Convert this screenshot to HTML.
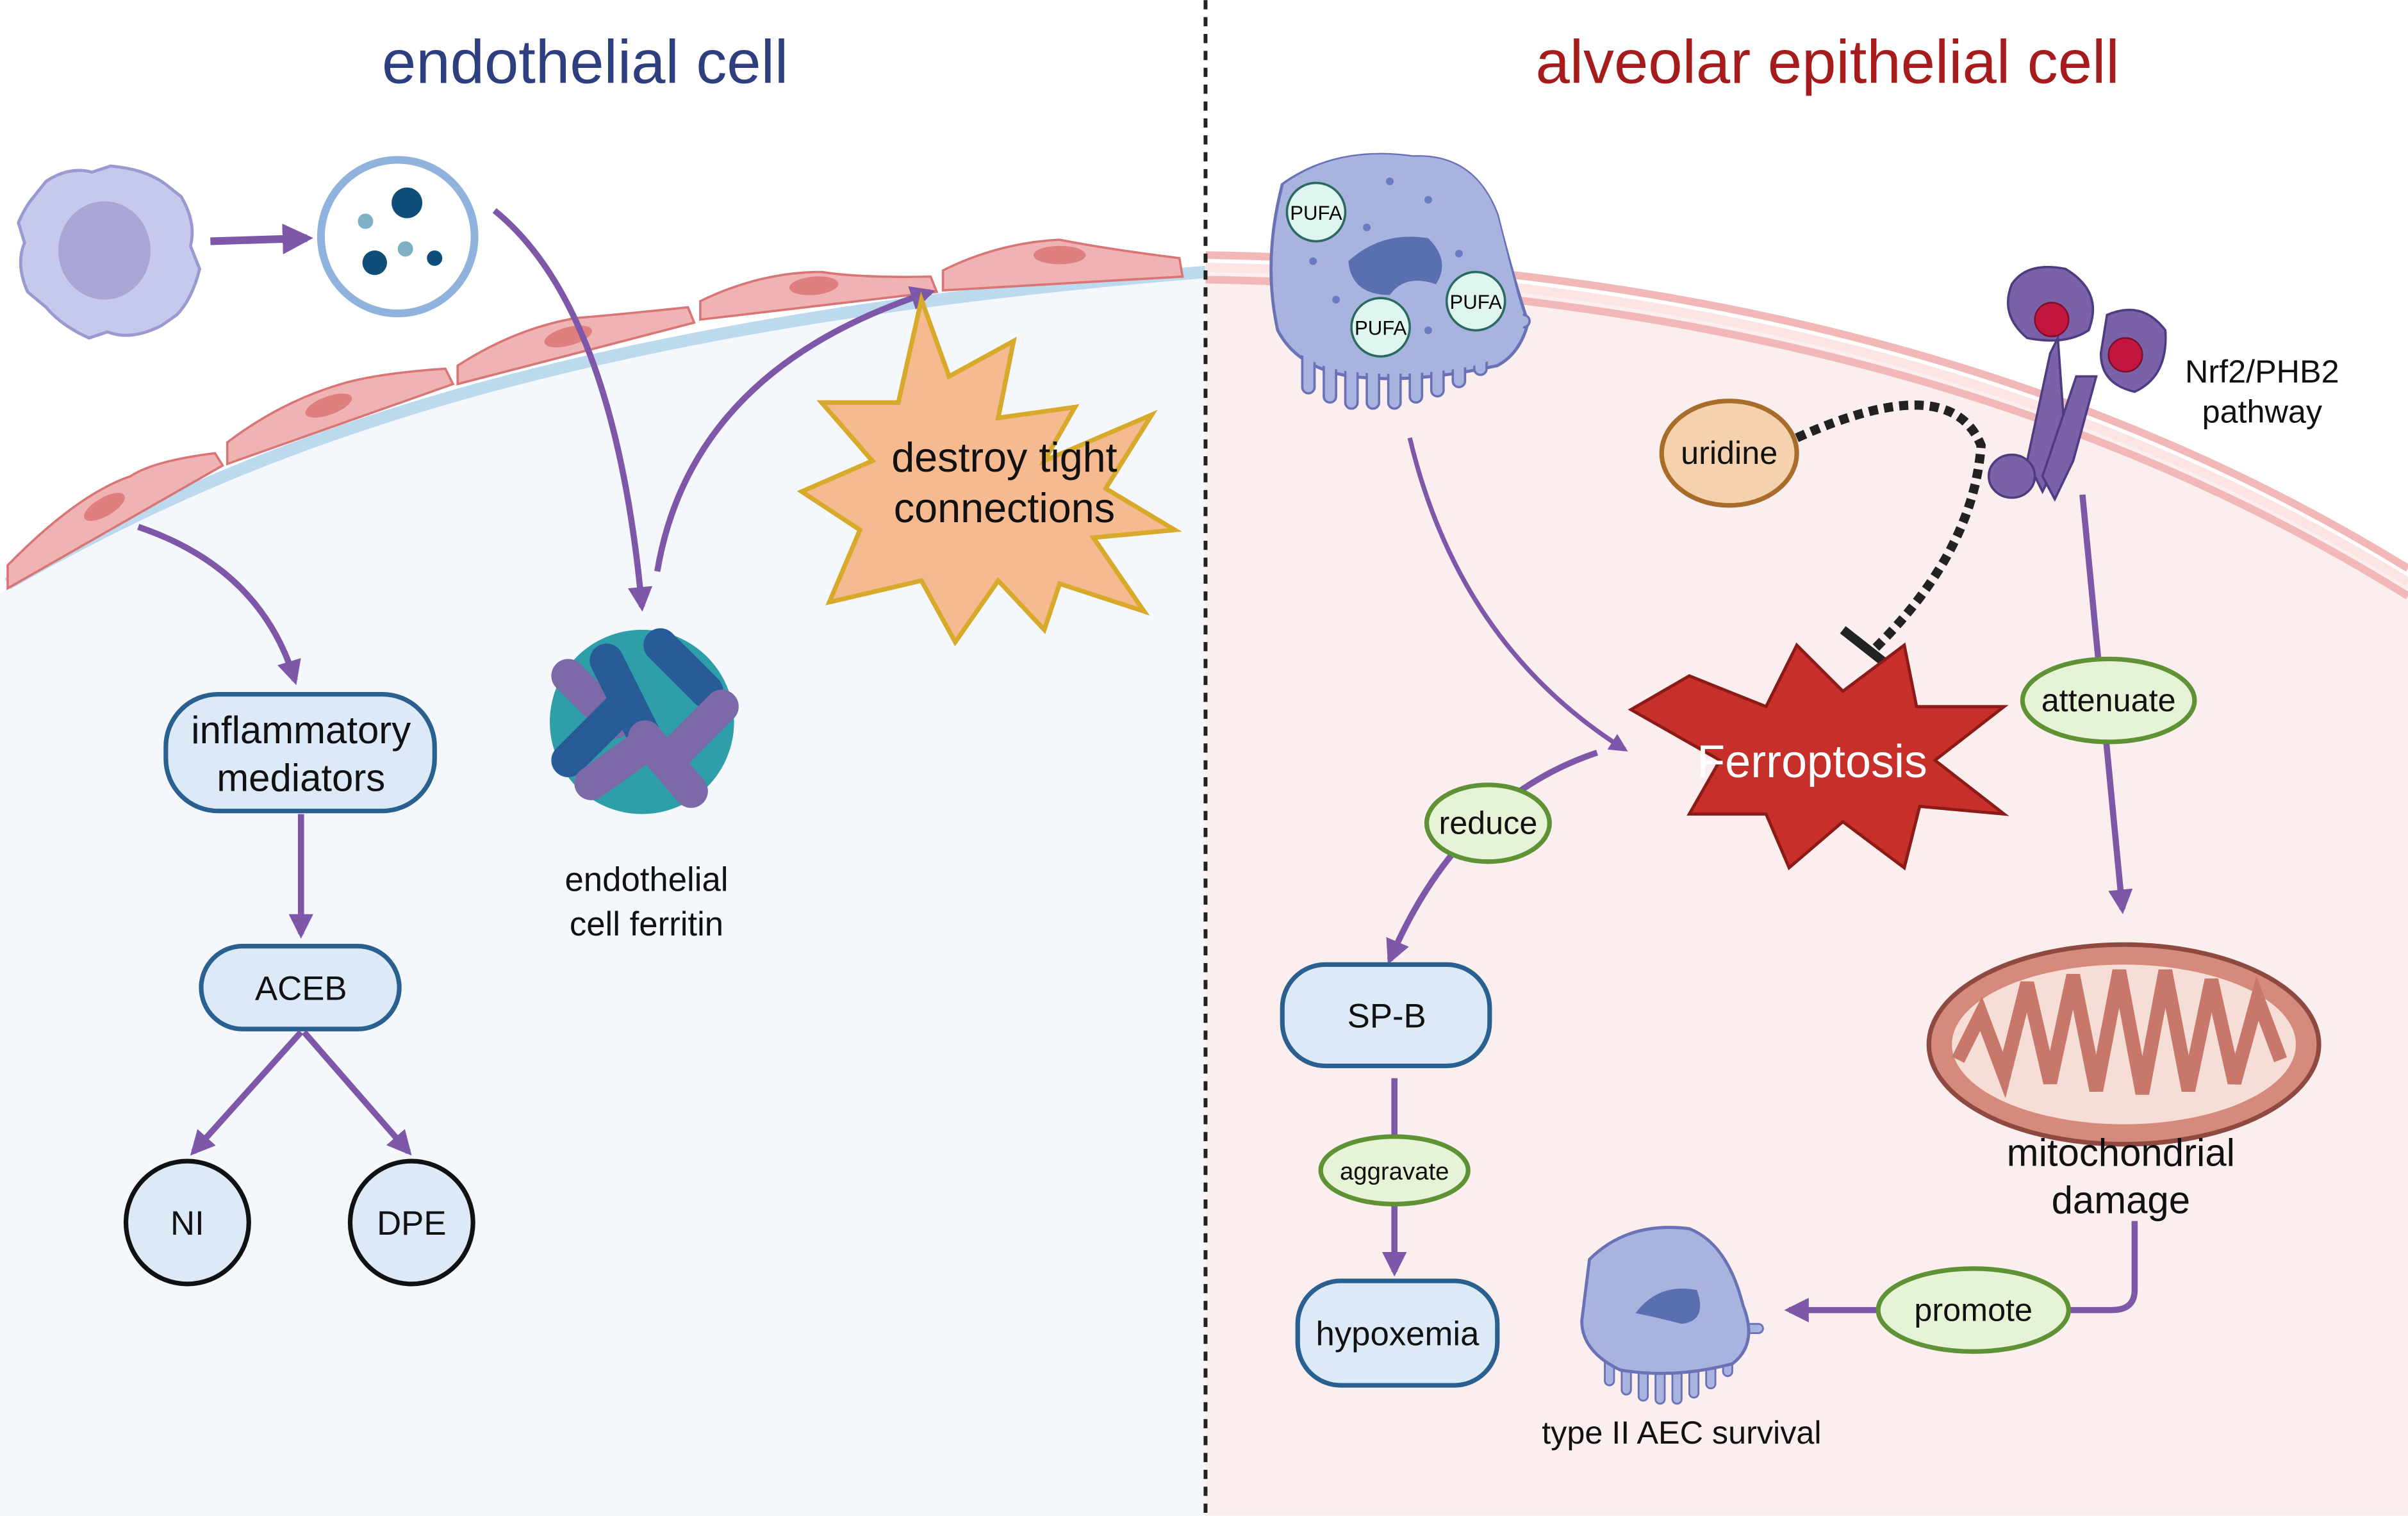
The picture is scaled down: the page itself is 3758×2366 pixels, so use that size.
<!DOCTYPE html>
<html><head><meta charset="utf-8"><style>
html,body{margin:0;padding:0;background:#fff}
svg{display:block}
text{font-family:"Liberation Sans",sans-serif}
</style></head><body>
<svg width="3758" height="2366" viewBox="0 0 1568 987" xmlns="http://www.w3.org/2000/svg">
<defs>
<marker id="ah" viewBox="0 0 10 10" refX="8" refY="5" markerWidth="4" markerHeight="4" orient="auto-start-reverse"><path d="M0,0 L10,5 L0,10 z" fill="#7e57a8"/></marker>
</defs>
<rect width="1568" height="987" fill="#fff"/>
<!-- left blue region below endothelium -->
<path d="M5,383 C150,300 350,215 785,180 L785,987 L0,987 L0,386 Z" fill="#f4f8fc"/>
<!-- right pink cell -->
<path d="M785,172 Q1250,180 1568,378 L1568,987 L785,987 Z" fill="#fbeeee"/>
<path d="M785,166 Q1250,174 1568,370" fill="none" stroke="#f2b8b8" stroke-width="5"/>
<path d="M785,182 Q1250,190 1568,388" fill="none" stroke="#f2b8b8" stroke-width="5"/>
<path d="M785,174 Q1250,182 1568,379" fill="none" stroke="#fce4e4" stroke-width="6"/>
<!-- endothelium blue line -->
<path d="M5,380 C150,297 350,212 785,177" fill="none" stroke="#bcd9ee" stroke-width="8"/>
<!-- endothelial cells -->
<g fill="#f0b3b3" stroke="#d97575" stroke-width="1.5">
<path d="M5,383 L145,303 L140,295 Q100,300 85,310 Q50,322 5,368 Z"/>
<path d="M148,302 L295,250 L290,240 Q245,243 222,250 Q182,262 148,288 Z"/>
<path d="M298,250 L452,210 L448,200 Q400,205 375,207 Q335,214 298,238 Z"/>
<path d="M456,208 L610,190 L606,180 Q560,181 535,177 Q495,177 456,196 Z"/>
<path d="M614,189 L770,180 L768,168 Q720,162 690,156 Q650,158 614,176 Z"/>
</g>
<g fill="#e07f80"><ellipse cx="68" cy="330" rx="15" ry="6" transform="rotate(-30 68 330)"/><ellipse cx="214" cy="264" rx="16" ry="6" transform="rotate(-20 214 264)"/><ellipse cx="370" cy="219" rx="16" ry="6" transform="rotate(-15 370 219)"/><ellipse cx="530" cy="186" rx="16" ry="6" transform="rotate(-5 530 186)"/><ellipse cx="690" cy="166" rx="17" ry="6"/></g>
<!-- divider -->
<line x1="785" y1="0" x2="785" y2="987" stroke="#222" stroke-width="2.5" stroke-dasharray="6,5"/>
<!-- titles -->
<text x="381" y="54" font-size="40" fill="#2e3f7f" text-anchor="middle">endothelial cell</text>
<text x="1190" y="54" font-size="40" fill="#a61c1c" text-anchor="middle">alveolar epithelial cell</text>
<!-- immune cell -->
<path d="M22,128 L30,118 Q45,108 60,112 L72,108 Q95,110 108,120 L118,128 Q128,145 124,160 L130,175 Q125,195 115,205 L105,212 Q85,222 70,216 L58,220 Q40,212 30,200 L18,190 Q10,172 16,158 L12,145 Q16,135 22,128Z" fill="#c6c8ec" stroke="#9a9ad0" stroke-width="2"/>
<ellipse cx="68" cy="163" rx="30" ry="32" fill="#a9a5d4"/>
<line x1="137" y1="157" x2="200" y2="155" stroke="#7e57a8" stroke-width="5" marker-end="url(#ah)"/>
<circle cx="259" cy="154" r="50" fill="#fff" stroke="#8fb3dc" stroke-width="5"/>
<circle cx="265" cy="132" r="10" fill="#0e4e78"/><circle cx="244" cy="171" r="8" fill="#0e4e78"/><circle cx="283" cy="168" r="5" fill="#0e4e78"/><circle cx="238" cy="144" r="5" fill="#7fb1c4"/><circle cx="264" cy="162" r="5" fill="#7fb1c4"/>
<!-- left arrows -->
<path d="M322,137 Q400,200 418,395" fill="none" stroke="#7e57a8" stroke-width="4" marker-end="url(#ah)"/>
<path d="M428,372 Q450,240 606,190" fill="none" stroke="#7e57a8" stroke-width="4" marker-end="url(#ah)"/>
<path d="M90,343 Q170,370 192,443" fill="none" stroke="#7e57a8" stroke-width="4" marker-end="url(#ah)"/>
<!-- starburst -->
<polygon points="600,195 618,245 660,222 650,272 700,265 680,300 750,270 720,318 765,345 712,350 745,398 690,380 680,410 650,378 622,418 600,378 540,392 560,345 522,320 568,300 535,262 585,262" fill="#f5ba8f" stroke="#d7aa2b" stroke-width="3"/>
<text x="654" y="307" font-size="27" text-anchor="middle" fill="#111">destroy tight</text>
<text x="654" y="340" font-size="27" text-anchor="middle" fill="#111">connections</text>
<!-- ferritin -->
<g>
<circle cx="418" cy="470" r="60" fill="#2e9fa8"/>
<g stroke-linecap="round" stroke-width="22" fill="none">
<line x1="370" y1="440" x2="400" y2="470" stroke="#7c6aa8"/>
<line x1="430" y1="420" x2="460" y2="450" stroke="#275c98"/>
<line x1="370" y1="495" x2="405" y2="460" stroke="#275c98"/>
<line x1="435" y1="495" x2="470" y2="460" stroke="#7c6aa8"/>
<line x1="395" y1="430" x2="420" y2="480" stroke="#275c98"/>
<line x1="420" y1="480" x2="450" y2="515" stroke="#7c6aa8"/>
<line x1="385" y1="510" x2="420" y2="485" stroke="#7c6aa8"/>
</g>
</g>
<text x="421" y="580" font-size="22" text-anchor="middle" fill="#111">endothelial</text>
<text x="421" y="609" font-size="22" text-anchor="middle" fill="#111">cell ferritin</text>
<!-- left nodes -->
<rect x="108" y="452" width="175" height="76" rx="34" fill="#dce9f7" stroke="#2a6090" stroke-width="3"/>
<text x="196" y="484" font-size="25" text-anchor="middle" fill="#111">inflammatory</text>
<text x="196" y="515" font-size="25" text-anchor="middle" fill="#111">mediators</text>
<line x1="196" y1="530" x2="196" y2="608" stroke="#7e57a8" stroke-width="4" marker-end="url(#ah)"/>
<rect x="131" y="616" width="129" height="54" rx="27" fill="#dce9f7" stroke="#2a6090" stroke-width="3"/>
<text x="196" y="651" font-size="22" text-anchor="middle" fill="#111">ACEB</text>
<line x1="196" y1="672" x2="126" y2="750" stroke="#7e57a8" stroke-width="4" marker-end="url(#ah)"/>
<line x1="198" y1="672" x2="266" y2="750" stroke="#7e57a8" stroke-width="4" marker-end="url(#ah)"/>
<circle cx="122" cy="796" r="40" fill="#dce9f7" stroke="#111" stroke-width="3"/>
<text x="122" y="804" font-size="22" text-anchor="middle" fill="#111">NI</text>
<circle cx="268" cy="796" r="40" fill="#dce9f7" stroke="#111" stroke-width="3"/>
<text x="268" y="804" font-size="22" text-anchor="middle" fill="#111">DPE</text>
<!-- macrophage right -->
<path d="M835,120 Q870,95 920,102 Q960,100 975,140 Q985,180 995,210 Q990,230 975,238 Q920,250 880,245 Q845,240 832,215 Q822,170 835,120Z" fill="#a8b3e0" stroke="#6a72b5" stroke-width="2"/>
<g fill="#a8b3e0" stroke="#6a72b5" stroke-width="1.5">
<rect x="848" y="228" width="8" height="28" rx="4"/><rect x="862" y="232" width="8" height="30" rx="4"/><rect x="876" y="234" width="8" height="32" rx="4"/><rect x="890" y="234" width="8" height="32" rx="4"/><rect x="904" y="234" width="8" height="32" rx="4"/><rect x="918" y="232" width="8" height="30" rx="4"/><rect x="932" y="230" width="8" height="28" rx="4"/><rect x="946" y="226" width="8" height="26" rx="4"/><rect x="960" y="220" width="8" height="24" rx="4"/><rect x="976" y="205" width="20" height="8" rx="4"/>
</g>
<path d="M836,120 Q870,95 920,102 Q960,100 975,140 Q985,180 993,210 Q985,232 960,238 Q920,246 880,242 Q845,238 834,215 Q824,170 836,120Z" fill="#a8b3e0"/>
<path d="M878,170 Q900,150 930,155 Q945,170 935,185 Q915,178 905,192 Q880,192 878,170Z" fill="#5a6fb0"/>
<g fill="#6a7cc0"><circle cx="905" cy="118" r="2.5"/><circle cx="930" cy="130" r="2.5"/><circle cx="890" cy="148" r="2.5"/><circle cx="855" cy="170" r="2.5"/><circle cx="950" cy="165" r="2.5"/><circle cx="930" cy="215" r="2.5"/><circle cx="870" cy="195" r="2.5"/></g>
<circle cx="857" cy="138" r="19" fill="#dff5ef" stroke="#2a6a60" stroke-width="1.5"/><text x="857" y="143" font-size="13" text-anchor="middle">PUFA</text>
<circle cx="899" cy="213" r="19" fill="#dff5ef" stroke="#2a6a60" stroke-width="1.5"/><text x="899" y="218" font-size="13" text-anchor="middle">PUFA</text>
<circle cx="961" cy="196" r="19" fill="#dff5ef" stroke="#2a6a60" stroke-width="1.5"/><text x="961" y="201" font-size="13" text-anchor="middle">PUFA</text>
<path d="M918,285 Q950,420 1058,488" fill="none" stroke="#7e57a8" stroke-width="3" marker-end="url(#ah)"/>
<!-- receptor -->
<g fill="#7b62a8" stroke="#4e3c80" stroke-width="1.5">
<path d="M1310,185 Q1320,170 1345,175 Q1370,190 1360,215 Q1345,225 1320,220 Q1302,205 1310,185Z"/>
<path d="M1372,205 Q1395,195 1410,215 Q1412,245 1390,255 Q1368,250 1368,230Z"/>
<path d="M1340,220 L1345,290 L1330,320 L1320,300 L1335,230Z"/>
<path d="M1365,245 L1350,300 L1338,325 L1330,310 L1352,245Z"/>
<ellipse cx="1310" cy="310" rx="15" ry="14"/>
</g>
<circle cx="1336" cy="208" r="11" fill="#c2163f" stroke="#7a0f2a"/><circle cx="1384" cy="231" r="11" fill="#c2163f" stroke="#7a0f2a"/>
<text x="1473" y="249" font-size="21" text-anchor="middle" fill="#111">Nrf2/PHB2</text>
<text x="1473" y="275" font-size="21" text-anchor="middle" fill="#111">pathway</text>
<!-- uridine inhibition -->
<path d="M1170,285 Q1270,240 1290,290 Q1285,360 1218,425" fill="none" stroke="#222" stroke-width="6" stroke-dasharray="6,4"/>
<line x1="1200" y1="410" x2="1228" y2="432" stroke="#222" stroke-width="6"/>
<ellipse cx="1126" cy="295" rx="44" ry="34" fill="#f5d2ad" stroke="#a86d2a" stroke-width="3"/>
<text x="1126" y="302" font-size="21" text-anchor="middle" fill="#111">uridine</text>
<!-- ferroptosis star -->
<polygon points="1100,440 1150,460 1170,420 1200,450 1240,420 1248,460 1305,460 1260,495 1305,530 1250,525 1240,565 1200,535 1165,565 1150,530 1100,530 1120,495 1062,462" fill="#c72f2a" stroke="#8c1a16" stroke-width="2"/>
<text x="1180" y="506" font-size="30" text-anchor="middle" fill="#fff">Ferroptosis</text>
<!-- Nrf2 arrow -->
<line x1="1356" y1="322" x2="1382" y2="592" stroke="#7e57a8" stroke-width="4" marker-end="url(#ah)"/>
<ellipse cx="1373" cy="456" rx="56" ry="27" fill="#e6f3d6" stroke="#5f9135" stroke-width="3"/>
<text x="1373" y="463" font-size="21" text-anchor="middle" fill="#111">attenuate</text>
<!-- mitochondria -->
<ellipse cx="1383" cy="680" rx="127" ry="65" fill="#d58a7c" stroke="#8e4a40" stroke-width="3"/>
<ellipse cx="1383" cy="680" rx="112" ry="52" fill="#f6ddd6"/>
<path d="M1275,690 L1290,660 L1305,700 L1320,640 L1335,705 L1350,635 L1365,710 L1380,632 L1395,712 L1410,632 L1425,710 L1440,638 L1455,705 L1470,650 L1485,690" fill="none" stroke="#c8786a" stroke-width="9"/>
<text x="1381" y="759" font-size="25" text-anchor="middle" fill="#111">mitochondrial</text>
<text x="1381" y="790" font-size="25" text-anchor="middle" fill="#111">damage</text>
<path d="M1390,795 L1390,840 Q1390,853 1375,853 L1165,853" fill="none" stroke="#7e57a8" stroke-width="4" marker-end="url(#ah)"/>
<ellipse cx="1285" cy="853" rx="62" ry="27" fill="#e6f3d6" stroke="#5f9135" stroke-width="3"/>
<text x="1285" y="860" font-size="21" text-anchor="middle" fill="#111">promote</text>
<!-- small AEC -->
<g fill="#a8b3e0" stroke="#6a72b5" stroke-width="1.2">
<rect x="1045" y="880" width="6" height="22" rx="3"/><rect x="1056" y="884" width="6" height="24" rx="3"/><rect x="1067" y="886" width="6" height="26" rx="3"/><rect x="1078" y="886" width="6" height="28" rx="3"/><rect x="1089" y="886" width="6" height="28" rx="3"/><rect x="1100" y="884" width="6" height="26" rx="3"/><rect x="1111" y="882" width="6" height="22" rx="3"/><rect x="1122" y="876" width="6" height="20" rx="3"/><rect x="1130" y="862" width="18" height="6" rx="3"/>
</g>
<path d="M1035,820 Q1060,795 1100,800 Q1125,810 1135,850 Q1145,875 1128,888 Q1090,898 1055,892 Q1030,880 1030,860 Z" fill="#a8b3e0" stroke="#6a72b5" stroke-width="2"/>
<path d="M1065,855 Q1080,835 1105,840 Q1112,860 1095,862 Q1080,858 1065,855Z" fill="#5a6fb0"/>
<text x="1095" y="940" font-size="21" text-anchor="middle" fill="#111">type II AEC survival</text>
<!-- reduce arrow -->
<path d="M1040,490 Q950,520 905,625" fill="none" stroke="#7e57a8" stroke-width="4" marker-end="url(#ah)"/>
<ellipse cx="969" cy="536" rx="40" ry="25" fill="#e6f3d6" stroke="#5f9135" stroke-width="3"/>
<text x="969" y="543" font-size="21" text-anchor="middle" fill="#111">reduce</text>
<rect x="835" y="628" width="135" height="66" rx="28" fill="#dce9f7" stroke="#2a6090" stroke-width="3"/>
<text x="903" y="669" font-size="22" text-anchor="middle" fill="#111">SP-B</text>
<line x1="908" y1="702" x2="908" y2="828" stroke="#7e57a8" stroke-width="4" marker-end="url(#ah)"/>
<ellipse cx="908" cy="762" rx="48" ry="22" fill="#e6f3d6" stroke="#5f9135" stroke-width="3"/>
<text x="908" y="768" font-size="16" text-anchor="middle" fill="#111">aggravate</text>
<rect x="845" y="834" width="130" height="68" rx="28" fill="#dce9f7" stroke="#2a6090" stroke-width="3"/>
<text x="910" y="876" font-size="22" text-anchor="middle" fill="#111">hypoxemia</text>
</svg>
</body></html>
